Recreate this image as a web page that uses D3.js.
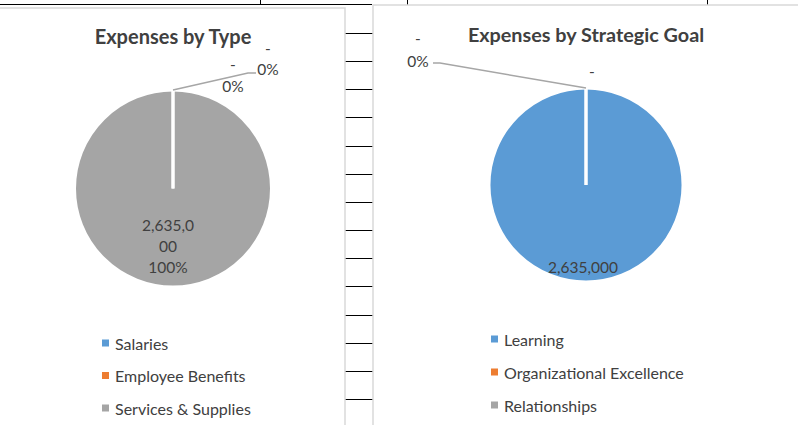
<!DOCTYPE html>
<html>
<head>
<meta charset="utf-8">
<script src="https://cdn.jsdelivr.net/npm/d3@7"></script>
<style>
  body { margin: 0; background: #fff; }
  svg { display: block; font-family: Lato, "Open Sans", sans-serif; }
</style>
</head>
<body>
<svg id="chart" width="798" height="425"></svg>
<script>
// data
const typeCategories = ["Salaries", "Employee Benefits", "Services & Supplies"];
const typeValues = [0, 0, 2635000];
const goalCategories = ["Learning", "Organizational Excellence", "Relationships"];
const goalValues = [2635000, 0, 0];
const sliceColors = ["#5B9BD5", "#ED7D31", "#A5A5A5"];

const svg = d3.select("#chart");

// spreadsheet cells behind the charts
const grid = svg.append("g");
grid.append("line").attr("x1", 0).attr("x2", 372).attr("y1", 4.5).attr("y2", 4.5)
    .attr("stroke", "#000").attr("stroke-width", 1);
[260, 407, 707].forEach(x => {
    grid.append("line").attr("x1", x + 0.5).attr("x2", x + 0.5).attr("y1", 0).attr("y2", 5)
        .attr("stroke", "#000");
});
d3.range(14).forEach(i => {
    const y = Math.round(33 + i * 28.15) + 0.5;
    grid.append("line").attr("x1", 345).attr("x2", 373).attr("y1", y).attr("y2", y)
        .attr("stroke", "#000");
});

function drawPie(opts) {
    const { box, cx, cy, r, title, titleY, titleSize, categories, values, labels, leader, legend } = opts;
    const g = svg.append("g");

    g.append("rect")
        .attr("x", box.x).attr("y", box.y).attr("width", box.w).attr("height", box.h)
        .attr("fill", "#fff").attr("stroke", "#d9d9d9").attr("stroke-width", 1.5);

    g.append("text")
        .attr("x", cx).attr("y", titleY)
        .attr("text-anchor", "middle")
        .attr("font-size", titleSize).attr("font-weight", "bold").attr("fill", "#404040")
        .text(title);

    const total = d3.sum(values);
    const pie = d3.pie().sort(null).value(d => d.value);
    const arcs = pie(categories.map((c, i) => ({ cat: c, value: values[i], i })));
    const arc = d3.arc().innerRadius(0).outerRadius(r);

    const pg = g.append("g").attr("transform", `translate(${cx},${cy})`);
    pg.selectAll("path.fill").data(arcs).join("path")
        .attr("class", "fill")
        .attr("d", arc)
        .attr("fill", d => sliceColors[d.data.i]);
    // white slice borders on top
    pg.selectAll("path.edge").data(arcs).join("path")
        .attr("class", "edge")
        .attr("d", arc)
        .attr("fill", "none")
        .attr("stroke", "#fff").attr("stroke-width", 3);

    // data labels
    labels.forEach(l => {
        const d = arcs[l.idx];
        const lines = [];
        if (l.value) {
            const v = d.data.value;
            const txt = v === 0 ? "-" : d3.format(",")(v);
            (l.wrap ? [txt.slice(0, l.wrap), txt.slice(l.wrap)] : [txt]).forEach(t => lines.push(t));
        }
        if (l.pct) lines.push(d3.format(".0%")(d.data.value / total));
        const t = g.append("text")
            .attr("text-anchor", "middle")
            .attr("font-size", 15.5).attr("fill", "#404040");
        lines.forEach((s, k) => {
            t.append("tspan")
                .attr("x", l.x)
                .attr("y", l.y + k * l.lh)
                .attr("dominant-baseline", "central")
                .text(s);
        });
    });

    // leader line from the slice edge to its label
    if (leader) {
        const d = arcs[leader.idx];
        const a = d.startAngle;
        const p0 = [cx + r * Math.sin(a), cy - r * Math.cos(a)];
        g.append("polyline")
            .attr("points", [p0, leader.bend, leader.end].map(p => p.join(",")).join(" "))
            .attr("fill", "none").attr("stroke", "#a6a6a6").attr("stroke-width", 1.5);
    }

    // legend
    const lg = g.append("g");
    categories.forEach((c, i) => {
        const y = legend.y + i * legend.step;
        lg.append("rect")
            .attr("x", legend.x).attr("y", y - 3.5).attr("width", 7).attr("height", 7)
            .attr("fill", sliceColors[i]);
        lg.append("text")
            .attr("x", legend.x + 13).attr("y", y)
            .attr("dominant-baseline", "central")
            .attr("font-size", 16).attr("fill", "#404040")
            .text(c);
    });
}

drawPie({
    box: { x: -2, y: 8, w: 347, h: 430 },
    cx: 173, cy: 188.5, r: 98.5,
    title: "Expenses by Type", titleY: 44, titleSize: 20,
    categories: typeCategories, values: typeValues,
    labels: [
        { idx: 0, value: true, pct: true, x: 268, y: 48, lh: 21 },
        { idx: 1, value: true, pct: true, x: 233, y: 64, lh: 22 },
        { idx: 2, value: true, pct: true, wrap: 7, x: 168, y: 225, lh: 21 }
    ],
    leader: { idx: 0, bend: [248, 73], end: [256, 73] },
    legend: { x: 102, y: 343, step: 32.5 }
});

drawPie({
    box: { x: 373, y: 5, w: 430, h: 430 },
    cx: 586, cy: 185, r: 97,
    title: "Expenses by Strategic Goal", titleY: 42, titleSize: 19.8,
    categories: goalCategories, values: goalValues,
    labels: [
        { idx: 0, value: true, x: 583, y: 267, lh: 21 },
        { idx: 1, value: true, x: 592, y: 71, lh: 21 },
        { idx: 2, value: true, pct: true, x: 418, y: 38, lh: 23 }
    ],
    leader: { idx: 2, bend: [440, 63], end: [433, 63] },
    legend: { x: 491, y: 339, step: 33 }
});
</script>
</body>
</html>
